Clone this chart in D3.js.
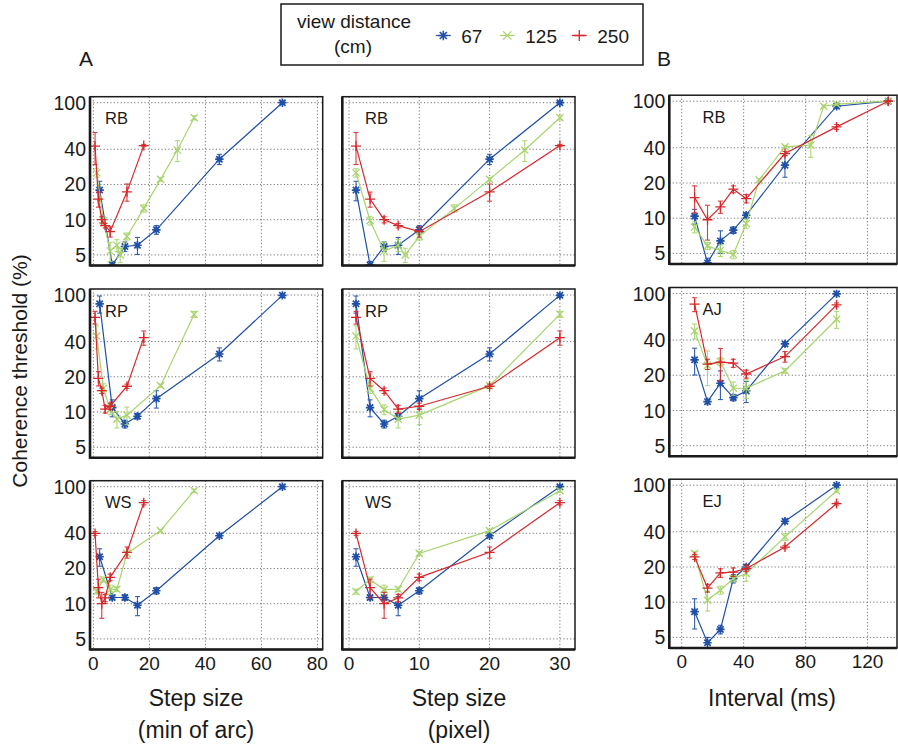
<!DOCTYPE html>
<html>
<head>
<meta charset="utf-8">
<script src="https://cdn.jsdelivr.net/npm/d3@7"></script>
<style>
  body { margin: 0; background: #fff; }
  svg { display: block; }
  text { font-family: "Liberation Sans", Arial, Helvetica, sans-serif; fill: #1a1a1a; }
</style>
</head>
<body>
<svg id="chart" width="898" height="745"></svg>
<script>
// ---- viewing conditions -------------------------------------------------
const distances = ["67", "125", "250"];          // viewing distance (cm)
const arcminPerPixel = [2.25, 1.2, 0.6];          // size of one pixel step (min of arc)
const seriesColors = ["#1f4fa6", "#a8d46e", "#d8272b"];
const seriesMarkers = ["star", "cross", "plus"];

// ---- step-size experiment (pixel steps) ---------------------------------
const stepPx = [1, 3, 5, 7, 10, 20, 30];
const stepPxFine = [1, 3, 5, 7, 8, 10, 15, 20, 25, 30];

const rbThr67  = [17.9, 4.1, 5.9, 6.05, 8.2, 32.9, 100];
const rbSe67   = [3.4, 0.3, 0.55, 1.0, 0.7, 3.3, 1.5];
const rbThr125 = [25.2, 9.8, 5.4, 6.05, 5.0, 7.2, 12.5, 22.1, 39.4, 74.4];
const rbSe125  = [2.1, 0.8, 1.0, 0.7, 0.7, 0.5, 0.9, 0.8, 8, 3];
const rbThr250 = [42.6, 15.0, 10.0, 8.9, 7.9, 17.3, 43];
const rbSe250  = [13, 2.2, 0.6, 0.4, 0.8, 2.9, 1];

const rpThr67  = [84, 10.9, 7.9, 9.2, 13.0, 31.3, 99.3];
const rpSe67   = [14, 1.8, 0.6, 0.5, 2.2, 4, 1];
const rpThr125 = [44.6, 15.9, 10.5, 8.7, 9.4, 16.8, 68.4];
const rpSe125  = [10, 1.5, 1, 1.4, 1.6, 0.5, 4];
const rpThr250 = [64.4, 19.4, 15.2, 10.6, 11.2, 16.6, 43.2];
const rpSe250  = [8, 2.7, 0.8, 0.8, 0.7, 0.7, 6];

const wsThr67  = [25.2, 11.3, 11.3, 9.7, 12.9, 38.1, 100];
const wsSe67   = [4.3, 0.5, 0.6, 1.8, 0.8, 1, 1];
const wsThr125 = [12.7, 16.1, 13.2, 13.3, 26.9, 42.1, 92.4];
const wsSe125  = [0.6, 0.8, 1.2, 0.6, 1, 1, 3];
const wsThr250 = [39.9, 13.7, 10.0, 11.2, 16.8, 27.5, 73];
const wsSe250  = [1.5, 2.5, 2.5, 0.8, 1.1, 3, 3];

// ---- interval experiment (ms) -------------------------------------------
const intervalMs     = [8.33, 16.67, 25, 33.33, 41.67, 66.67, 100];
const intervalMsLong = [8.33, 16.67, 25, 33.33, 41.67, 66.67, 100, 133.33];
const intervalMsFine = [8.33, 16.67, 25, 33.33, 41.67, 50, 66.67, 83.33, 91.67, 100, 133.33];

const rbIntThr67  = [10.4, 4.15, 6.4, 7.9, 10.6, 28.4, 90.6, 100];
const rbIntSe67   = [1.5, 0.4, 1.4, 0.5, 0.5, 6, 2, 1];
const rbIntThr125 = [8.4, 5.8, 5.3, 4.9, 9.0, 21.3, 40.7, 42.1, 90.6, 94.3, 100];
const rbIntSe125  = [0.9, 0.4, 0.6, 0.4, 0.8, 0.5, 1, 9, 2, 2, 1];
const rbIntThr250 = [15.0, 9.7, 12.5, 17.7, 14.7, 35.7, 60.3, 100];
const rbIntSe250  = [3.9, 3.2, 1.5, 1.2, 1.2, 1.5, 3, 1];

const ajIntThr67  = [27.1, 11.9, 17.1, 12.9, 14.7, 37.1, 99.3];
const ajIntSe67   = [7, 0.5, 4.7, 0.8, 3, 1.5, 1];
const ajIntThr125 = [47.9, 24.3, 26.2, 15.5, 15.5, 21.8, 60.3];
const ajIntSe125  = [7, 8, 2, 2, 2.8, 1, 10];
const ajIntThr250 = [81, 24.9, 25.9, 25.4, 20.5, 28.9, 80];
const ajIntSe250  = [11, 2.5, 8, 2, 1.6, 3, 3];

const ejIntThr67  = [8.3, 4.5, 5.85, 15.9, 20, 49.2, 100];
const ejIntSe67   = [2.4, 0.5, 0.5, 1.3, 1, 2, 1];
const ejIntThr125 = [26.0, 10.4, 12.7, 15.9, 17.6, 36.2, 89.4];
const ejIntSe125  = [1.2, 2, 1, 1, 2.5, 2.5, 2];
const ejIntThr250 = [24.4, 13.2, 17.8, 18.1, 19.4, 29.6, 69.7];
const ejIntSe250  = [1.2, 1, 1.5, 1.5, 1, 1, 2];

// ---- axis ticks ----------------------------------------------------------
const yTicks = [5, 10, 20, 40, 100];
const arcTicks = [0, 20, 40, 60, 80];
const pixelTicks = [0, 10, 20, 30];
const intervalTicks = [0, 40, 80, 120];

// ---- tables assembled from the arrays above ------------------------------
const stepSubjects = ["RB", "RP", "WS"];
const stepSeries = [
  [[stepPx, rbThr67, rbSe67], [stepPxFine, rbThr125, rbSe125], [stepPx, rbThr250, rbSe250]],
  [[stepPx, rpThr67, rpSe67], [stepPx, rpThr125, rpSe125], [stepPx, rpThr250, rpSe250]],
  [[stepPx, wsThr67, wsSe67], [stepPx, wsThr125, wsSe125], [stepPx, wsThr250, wsSe250]]
];
const intSubjects = ["RB", "AJ", "EJ"];
const intSeries = [
  [[intervalMsLong, rbIntThr67, rbIntSe67], [intervalMsFine, rbIntThr125, rbIntSe125], [intervalMsLong, rbIntThr250, rbIntSe250]],
  [[intervalMs, ajIntThr67, ajIntSe67], [intervalMs, ajIntThr125, ajIntSe125], [intervalMs, ajIntThr250, ajIntSe250]],
  [[intervalMs, ejIntThr67, ejIntSe67], [intervalMs, ejIntThr125, ejIntSe125], [intervalMs, ejIntThr250, ejIntSe250]]
];

// ---- layout --------------------------------------------------------------
const svg = d3.select("#chart");
const rowY100 = [102.7, 295, 486.7];   // pixel row of the 100% gridline
const decadePx = 117;
const columns = [
  { left: 90,    right: 322.7, domain: [-1.2, 81.9],   ticks: arcTicks,      yLabels: true,  dy: 0,    labelX: 105 },
  { left: 342.3, right: 575,   domain: [-0.95, 32.15], ticks: pixelTicks,    yLabels: false, dy: 0,    labelX: 365 },
  { left: 669.3, right: 897,   domain: [-8, 139],      ticks: intervalTicks, yLabels: true,  dy: -1.5, labelX: 702.5 }
];

function markerPath(type, s) {
  const p = d3.path();
  if (type === "plus" || type === "star") {
    p.moveTo(-s, 0); p.lineTo(s, 0);
    p.moveTo(0, -s); p.lineTo(0, s);
  }
  if (type === "cross" || type === "star") {
    const d = type === "star" ? s * 0.75 : s;
    p.moveTo(-d, -d); p.lineTo(d, d);
    p.moveTo(-d, d); p.lineTo(d, -d);
  }
  return p.toString();
}
const markerSize = { star: 4.2, cross: 3.6, plus: 5 };

let clipId = 0;
function drawPanel(colIdx, rowIdx, label, seriesList, xOf) {
  const col = columns[colIdx];
  const y100 = rowY100[rowIdx] + col.dy;
  const top = y100 - 6, bottom = y100 + 162.8;
  const x = d3.scaleLinear().domain(col.domain).range([col.left, col.right]);
  const y = d3.scaleLog().domain([5, 100]).range([y100 + decadePx * Math.log10(20), y100]);

  const g = svg.append("g");

  // dotted grid
  g.selectAll(".vgrid").data(col.ticks).join("line")
    .attr("x1", d => x(d)).attr("x2", d => x(d))
    .attr("y1", top).attr("y2", bottom)
    .attr("stroke", "#666").attr("stroke-width", 0.9).attr("stroke-dasharray", "1.2,2.2");
  g.selectAll(".hgrid").data(yTicks).join("line")
    .attr("x1", col.left).attr("x2", col.right)
    .attr("y1", d => y(d)).attr("y2", d => y(d))
    .attr("stroke", "#666").attr("stroke-width", 0.9).attr("stroke-dasharray", "1.2,2.2");

  // y tick labels
  if (col.yLabels) {
    g.selectAll(".ylab").data(yTicks).join("text")
      .attr("x", col.left - 4).attr("y", d => y(d)).attr("dy", "0.36em")
      .attr("text-anchor", "end").attr("font-size", 19.5)
      .text(d => d);
  }
  // x tick labels on the bottom row
  if (rowIdx === 2) {
    g.selectAll(".xlab").data(col.ticks).join("text")
      .attr("x", d => x(d)).attr("y", bottom + 20)
      .attr("text-anchor", "middle").attr("font-size", 19)
      .text(d => d);
  }

  // data, clipped to the frame
  const id = "clip" + (clipId++);
  g.append("clipPath").attr("id", id).append("rect")
    .attr("x", col.left).attr("y", top)
    .attr("width", col.right - col.left).attr("height", bottom - top);
  const plot = g.append("g").attr("clip-path", `url(#${id})`);

  seriesList.forEach(([xs, thr, se], k) => {
    const pts = thr.map((v, i) => ({ x: xOf(xs[i], k), v, se: se[i] }));
    const color = seriesColors[k];
    const sg = plot.append("g");
    sg.append("path")
      .attr("d", d3.line().x(d => x(d.x)).y(d => y(d.v))(pts))
      .attr("fill", "none").attr("stroke", color).attr("stroke-width", 1.2);
    // error bars
    const eb = sg.selectAll(".eb").data(pts).join("g")
      .attr("stroke", color).attr("stroke-width", 1.1).attr("opacity", 0.9);
    eb.append("line")
      .attr("x1", d => x(d.x)).attr("x2", d => x(d.x))
      .attr("y1", d => y(Math.max(d.v - d.se, 1))).attr("y2", d => y(d.v + d.se));
    eb.append("line")
      .attr("x1", d => x(d.x) - 2.5).attr("x2", d => x(d.x) + 2.5)
      .attr("y1", d => y(Math.max(d.v - d.se, 1))).attr("y2", d => y(Math.max(d.v - d.se, 1)));
    eb.append("line")
      .attr("x1", d => x(d.x) - 2.5).attr("x2", d => x(d.x) + 2.5)
      .attr("y1", d => y(d.v + d.se)).attr("y2", d => y(d.v + d.se));
    // markers
    const m = seriesMarkers[k];
    sg.selectAll(".mk").data(pts).join("path")
      .attr("transform", d => `translate(${x(d.x)},${y(d.v)})`)
      .attr("d", markerPath(m, markerSize[m]))
      .attr("fill", "none").attr("stroke", color).attr("stroke-width", m === "star" ? 1.7 : 1.3);
  });

  // frame
  g.append("rect").attr("x", col.left).attr("y", top)
    .attr("width", col.right - col.left).attr("height", bottom - top)
    .attr("fill", "none").attr("stroke", "#1a1a1a").attr("stroke-width", 1.5);
  g.append("line").attr("x1", col.left).attr("x2", col.left).attr("y1", top).attr("y2", bottom + 1)
    .attr("stroke", "#1a1a1a").attr("stroke-width", 2.6);
  g.append("line").attr("x1", col.left).attr("x2", col.right).attr("y1", bottom).attr("y2", bottom)
    .attr("stroke", "#1a1a1a").attr("stroke-width", 2.6);

  // subject label
  g.append("text").attr("x", col.labelX).attr("y", y100 + 21.6)
    .attr("font-size", 16.5).text(label);
}

stepSubjects.forEach((s, r) => {
  drawPanel(0, r, s, stepSeries[r], (v, k) => v * arcminPerPixel[k]);
  drawPanel(1, r, s, stepSeries[r], v => v);
});
intSubjects.forEach((s, r) => {
  drawPanel(2, r, s, intSeries[r], v => v);
});

// ---- axis titles and panel letters --------------------------------------
svg.append("text").attr("transform", "translate(27,371) rotate(-90)")
  .attr("text-anchor", "middle").attr("font-size", 21).text("Coherence threshold (%)");
svg.append("text").attr("x", 196).attr("y", 706).attr("text-anchor", "middle").attr("font-size", 23).text("Step size");
svg.append("text").attr("x", 196).attr("y", 738).attr("text-anchor", "middle").attr("font-size", 23).text("(min of arc)");
svg.append("text").attr("x", 459).attr("y", 706).attr("text-anchor", "middle").attr("font-size", 23).text("Step size");
svg.append("text").attr("x", 459).attr("y", 738).attr("text-anchor", "middle").attr("font-size", 23).text("(pixel)");
svg.append("text").attr("x", 772).attr("y", 706).attr("text-anchor", "middle").attr("font-size", 23).text("Interval (ms)");
svg.append("text").attr("x", 86).attr("y", 66).attr("text-anchor", "middle").attr("font-size", 21).text("A");
svg.append("text").attr("x", 664).attr("y", 66).attr("text-anchor", "middle").attr("font-size", 21).text("B");

// ---- legend --------------------------------------------------------------
const legend = svg.append("g");
legend.append("rect").attr("x", 281).attr("y", 4).attr("width", 362).attr("height", 61)
  .attr("fill", "#fff").attr("stroke", "#1a1a1a").attr("stroke-width", 1.5);
legend.append("text").attr("x", 354).attr("y", 28).attr("text-anchor", "middle").attr("font-size", 19).text("view distance");
legend.append("text").attr("x", 353).attr("y", 53).attr("text-anchor", "middle").attr("font-size", 19).text("(cm)");
const legendX = [443.3, 507.3, 579.3];
distances.forEach((d, k) => {
  const cx = legendX[k], cy = 35.5, m = seriesMarkers[k];
  legend.append("line").attr("x1", cx - 7.5).attr("x2", cx + 7.5).attr("y1", cy).attr("y2", cy)
    .attr("stroke", seriesColors[k]).attr("stroke-width", 1.2);
  legend.append("path").attr("transform", `translate(${cx},${cy})`)
    .attr("d", markerPath(m, markerSize[m] + 0.5))
    .attr("fill", "none").attr("stroke", seriesColors[k]).attr("stroke-width", m === "star" ? 1.6 : 1.3);
  legend.append("text").attr("x", cx + 18).attr("y", 42.5).attr("font-size", 19).text(d);
});
</script>
</body>
</html>
